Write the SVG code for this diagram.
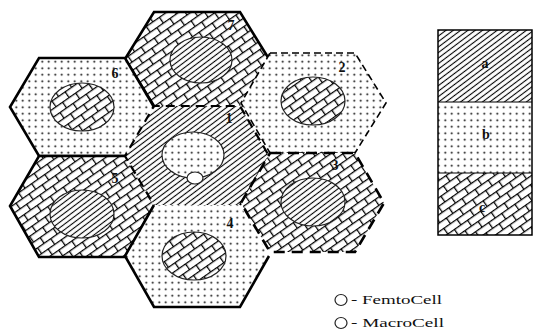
<svg xmlns="http://www.w3.org/2000/svg" width="537" height="336" viewBox="0 0 537 336">
<style>
.solid{fill:none;stroke:#000;stroke-width:2.6;stroke-linejoin:miter}
.ell{stroke:#222;stroke-width:1.2}
.num{font-family:"Liberation Serif",serif;font-size:14px;font-weight:bold;fill:#111;text-anchor:middle}
.leg{font-family:"Liberation Serif",serif;font-size:14px;font-weight:bold;fill:#111;text-anchor:middle}
.key{font-family:"Liberation Serif",serif;font-size:13px;fill:#111}
</style>
<defs>
<pattern id="pa" width="4.4" height="4.4" patternUnits="userSpaceOnUse" patternTransform="rotate(-37)">
<rect width="4.4" height="4.4" fill="#fff"/>
<line x1="0" y1="2.2" x2="4.4" y2="2.2" stroke="#000" stroke-width="1.1"/>
</pattern>
<pattern id="pb" width="6.5" height="6.5" patternUnits="userSpaceOnUse">
<rect width="6.5" height="6.5" fill="#fff"/>
<circle cx="3.25" cy="3.25" r="1" fill="#000"/>
</pattern>
<pattern id="pc" width="16" height="14" patternUnits="userSpaceOnUse" patternTransform="rotate(-35)">
<rect width="16" height="14" fill="#fff"/>
<path d="M0 0.6H16M0 7.6H16M0.6 0.6V7.6M8.6 7.6V14" stroke="#000" stroke-width="1.3" fill="none"/>
</pattern>
</defs>

<g id="hex7">
<polygon points="154,12 240,12 269,59 240,106 154,106 125,59" fill="url(#pc)"/>
<ellipse class="ell" cx="201" cy="60" rx="31" ry="23" fill="url(#pa)"/>
<polyline class="solid" points="154,106 125,59 154,12 240,12 269,59"/>
<text class="num" x="231" y="30">7</text>
</g>
<g id="hex6">
<polygon points="39,58 125,58 154,107 125,156 39,156 10,107" fill="url(#pb)"/>
<ellipse class="ell" cx="82" cy="107" rx="32" ry="24" fill="url(#pc)"/>
<polyline class="solid" points="154,107 125,58 39,58 10,107 39,156 125,156"/>
<text class="num" x="115" y="78">6</text>
</g>
<g id="hex5">
<polygon points="39,156 125,156 154,206 125,257 39,257 10,206" fill="url(#pc)"/>
<ellipse class="ell" cx="82" cy="214" rx="32" ry="24" fill="url(#pa)"/>
<polyline class="solid" points="154,206 125,257 39,257 10,206 39,156 125,156"/>
<text class="num" x="115" y="183">5</text>
</g>
<g id="hex4">
<polygon points="154,205 240,205 269,256 240,307 154,307 125,256" fill="url(#pb)"/>
<ellipse class="ell" cx="194" cy="256" rx="32" ry="24" fill="url(#pc)"/>
<polyline class="solid" points="269,256 240,307 154,307 125,256 154,205"/>
<text class="num" x="230" y="228">4</text>
</g>
<g id="hex1">
<polygon points="154,106 240,106 269,156 240,205 154,205 125,156" fill="url(#pa)"/>
<ellipse class="ell" cx="193" cy="155" rx="31" ry="23" fill="url(#pb)"/>
<ellipse cx="195" cy="178" rx="8" ry="6" fill="#fff" stroke="#222" stroke-width="1.2"/>
<polyline points="240,205 269,156 240,106 154,106 125,156 154,205" fill="none" stroke="#000" stroke-width="2.2" stroke-dasharray="9,6"/>
<text class="num" x="229" y="123">1</text>
</g>
<g id="hex2">
<polygon points="270,53 355,53 386,103 355,153 270,153 241,103" fill="url(#pb)"/>
<ellipse class="ell" cx="313" cy="101" rx="32" ry="24" fill="url(#pc)"/>
<polygon points="270,53 355,53 386,103 355,153 270,153 241,103" fill="none" stroke="#000" stroke-width="1.6" stroke-dasharray="7,4"/>
<text class="num" x="342" y="72">2</text>
</g>
<g id="hex3">
<polygon points="270,153 355,153 384,203 355,252 270,252 241,203" fill="url(#pc)"/>
<ellipse class="ell" cx="313" cy="202" rx="32" ry="24" fill="url(#pa)"/>
<polygon points="270,153 355,153 384,203 355,252 270,252 241,203" fill="none" stroke="#000" stroke-width="2.6" stroke-dasharray="11,7"/>
<text class="num" x="335" y="170">3</text>
</g>

<g id="legend">
<rect x="438" y="30" width="94" height="72" fill="url(#pa)"/>
<rect x="438" y="102" width="94" height="71" fill="url(#pb)"/>
<rect x="438" y="173" width="94" height="62" fill="url(#pc)"/>
<rect x="438" y="30" width="94" height="205" fill="none" stroke="#000" stroke-width="1.5"/>
<line x1="438" y1="102" x2="532" y2="102" stroke="#000" stroke-width="1.2"/>
<line x1="438" y1="173" x2="532" y2="173" stroke="#000" stroke-width="1.2"/>
<text class="leg" x="485" y="68">a</text>
<text class="leg" x="486" y="139">b</text>
<text class="leg" x="482" y="212">c</text>
</g>

<g id="key">
<ellipse cx="341" cy="300" rx="6" ry="5.5" fill="#fff" stroke="#222" stroke-width="1.2"/>
<text class="key" x="351" y="304" textLength="91" lengthAdjust="spacingAndGlyphs">- FemtoCell</text>
<ellipse cx="341" cy="323" rx="6" ry="5.5" fill="#fff" stroke="#222" stroke-width="1.2"/>
<text class="key" x="351" y="327" textLength="93" lengthAdjust="spacingAndGlyphs">- MacroCell</text>
</g>
</svg>
